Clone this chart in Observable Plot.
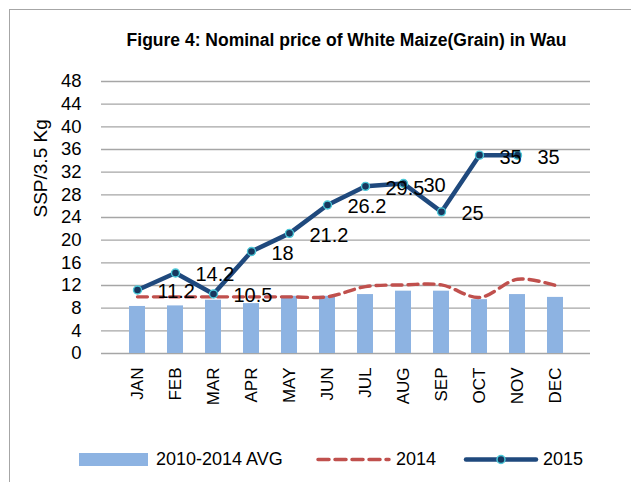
<!DOCTYPE html>
<html>
<head>
<meta charset="utf-8">
<script src="https://cdn.jsdelivr.net/npm/d3@7"></script>
<script src="https://cdn.jsdelivr.net/npm/@observablehq/plot@0.6"></script>
<style>
  html, body { margin: 0; padding: 0; background: #fff; }
  #wrap { position: relative; width: 631px; height: 482px; overflow: hidden; font-family: "Liberation Sans", Arial, sans-serif; }
  #frame { position: absolute; left: 9px; top: 9px; width: 640px; height: 500px; border: 1.5px solid #a6a6a6; box-sizing: border-box; }
  #title { position: absolute; left: 0; width: 693px; top: 30px; text-align: center; font-weight: bold; font-size: 17.5px; color: #000; }
  #chart { position: absolute; left: 0; top: 0; }
  #legend { position: absolute; left: 0; top: 448px; width: 631px; height: 24px; font-size: 18px; color: #000; }
  .li { position: absolute; top: 0; line-height: 22px; }
</style>
</head>
<body>
<div id="wrap">
  <div id="frame"></div>
  <div id="chart"></div>
  <div id="title">Figure 4: Nominal price of White Maize(Grain) in Wau</div>
  <div id="legend">
    <svg width="631" height="24" style="position:absolute;left:0;top:0">
      <rect x="79" y="5" width="69" height="13" fill="#8DB3E2"></rect>
      <line x1="318" y1="11.5" x2="389" y2="11.5" stroke="#C0504D" stroke-width="3.5" stroke-dasharray="11,6" stroke-linecap="round"></line>
      <line x1="466" y1="11.5" x2="536" y2="11.5" stroke="#1F497D" stroke-width="4.5" stroke-linecap="round"></line>
      <circle cx="501" cy="11.5" r="4" fill="#17375E" stroke="#4BC8D8" stroke-width="1.5"></circle>
    </svg>
    <span class="li" style="left:156px">2010-2014 AVG</span>
    <span class="li" style="left:396px">2014</span>
    <span class="li" style="left:543px">2015</span>
  </div>
</div>
<script>
const months = ["JAN","FEB","MAR","APR","MAY","JUN","JUL","AUG","SEP","OCT","NOV","DEC"];
const avg2010_2014 = [8.3, 8.4, 9.4, 8.8, 10.1, 10.1, 10.4, 11.0, 11.0, 9.5, 10.4, 9.9];
const y2014 = [10, 10, 10, 10, 10, 10, 11.8, 12.1, 12.1, 9.9, 13.1, 12];
const y2015 = [11.2, 14.2, 10.5, 18, 21.2, 26.2, 29.5, 30, 25, 35, 35, null];
const yTicks = d3.range(0, 49, 4);

const bars = months.map((m, i) => ({month: m, value: avg2010_2014[i]}));
const s2014 = months.map((m, i) => ({month: m, value: y2014[i]}));
const s2015 = months.map((m, i) => ({month: m, value: y2015[i]})).filter(d => d.value != null);

const chart = Plot.plot({
  width: 631,
  height: 482,
  marginLeft: 101,
  marginRight: 41,
  marginTop: 81,
  marginBottom: 129,
  style: {fontFamily: "Liberation Sans, Arial, sans-serif", background: "transparent", color: "#000"},
  x: {domain: months, padding: 0.58, label: null},
  y: {domain: [0, 48], label: null},
  marks: [
    Plot.ruleY(yTicks, {stroke: "#a6a6a6", strokeWidth: 1.3}),
    Plot.axisY({ticks: yTicks, tickSize: 0, tickPadding: 20, fontSize: 18.5, label: null}),
    Plot.text(["SSP/3.5 Kg"], {frameAnchor: "left", dx: -61, rotate: -90, fontSize: 19, text: d => d}),
    Plot.axisX({tickSize: 0, tickRotate: -90, tickPadding: 14, fontSize: 17, label: null}),
    Plot.barY(bars, {x: "month", y: "value", fill: "#8DB3E2"}),
    Plot.line(s2014, {x: "month", y: "value", stroke: "#C0504D", strokeWidth: 3.4, strokeDasharray: "10,6", curve: "catmull-rom"}),
    Plot.line(s2015, {x: "month", y: "value", stroke: "#1F497D", strokeWidth: 4.5, strokeLinejoin: "round"}),
    Plot.dot(s2015, {x: "month", y: "value", r: 4, fill: "#17375E", stroke: "#4BC8D8", strokeWidth: 1.4}),
    Plot.text(s2015, {x: "month", y: "value", text: d => String(d.value), textAnchor: "start", dx: 20, dy: 2, fontSize: 20, fill: "#000"})
  ]
});
document.getElementById("chart").appendChild(chart);
</script>
</body>
</html>
